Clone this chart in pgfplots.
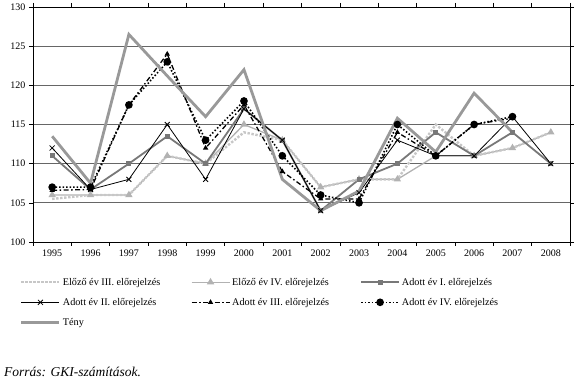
\documentclass[border=0pt]{standalone}
\usepackage{pgfplots}
\pgfplotsset{compat=1.18}
\usepackage{fontspec}
\setmainfont{Liberation Serif}
\definecolor{teny}{gray}{0.6}
\definecolor{adottI}{gray}{0.47}
\definecolor{elozoIII}{gray}{0.78}
\definecolor{elozoIV}{gray}{0.70}
\definecolor{gridc}{gray}{0.4}
\begin{document}
\begin{tikzpicture}
\path[use as bounding box] (0pt,0pt) rectangle (580pt,385pt);
\begin{axis}[
  at={(33pt,143pt)}, anchor=south west, scale only axis,
  width=537pt, height=235pt,
  xmin=-0.5, xmax=13.5, ymin=100, ymax=130,
  ytick={100,105,...,130},
  xtick={-0.5,0.5,...,13.5},
  xticklabels={1995,1996,1997,1998,1999,2000,2001,2002,2003,2004,2005,2006,2007,2008},
  x tick label as interval=true,
  tick align=outside, major tick length=4pt,
  tick style={black, line width=0.6pt},
  axis line style={black, line width=0.8pt},
  ymajorgrids, grid style={gridc, line width=0.9pt},
  /pgf/number format/assume math mode=true,
  tick label style={font=\fontsize{10}{12}\selectfont},
  legend cell align=left,
  legend style={at={(axis description cs:-0.03,-0.135)}, anchor=north west, draw=none,
    legend columns=3, font=\fontsize{10.2}{12}\selectfont, row sep=7.5pt,
    /tikz/every even column/.append style={column sep=2pt}},
  legend image code/.code={\draw[mark repeat=2,mark phase=2,#1] plot coordinates {(0pt,0pt) (19pt,0pt) (38pt,0pt)};},
]
\addplot[elozoIV, line width=1.3pt, mark=triangle*, mark size=3pt, mark options={solid}, forget plot] coordinates {
(0,106)(1,106)(2,106)(3,111)(4,110)(5,115)(6,113)(7,107)(8,108)(9,108)(10,111)(11,111)(12,112)(13,114)};
\addplot[elozoIII, line width=2.4pt, dash pattern=on 2.4pt off 1.6pt] coordinates {
(0,105.5)(1,106)(2,106)(3,111)(4,110)(5,114)(6,113)(7,107)(8,108)(9,108)(10,115)(11,111)(12,112)(13,114)};
\addlegendentry{\makebox[124pt][l]{Előző év III. előrejelzés}}
\addlegendimage{elozoIV, line width=1.3pt, mark=triangle*, mark size=3pt, mark options={solid}}
\addlegendentry{\makebox[124pt][l]{Előző év IV. előrejelzés}}
\addplot[adottI, line width=1.8pt, mark=square*, mark size=1.6pt, mark options={solid}] coordinates {
(0,111)(1,106.7)(2,110)(3,113.5)(4,110)(5,117)(6,113)(7,104)(8,108)(9,110)(10,114)(11,111)(12,114)(13,110)};
\addlegendentry{\makebox[124pt][l]{Adott év I. előrejelzés}}
\addplot[black, line width=0.8pt, mark=x, mark size=3.5pt, mark options={solid}] coordinates {
(0,112)(1,106.7)(2,108)(3,115)(4,108)(5,117)(6,113)(7,104)(8,106.3)(9,113)(10,111)(11,111)(12,116)(13,110)};
\addlegendentry{\makebox[124pt][l]{Adott év II. előrejelzés}}
\addplot[black, line width=1.3pt, dash pattern=on 5pt off 2.5pt on 1.5pt off 2.5pt, mark=triangle*, mark size=1.8pt, mark options={solid}] coordinates {
(0,106.6)(1,106.7)(2,117.5)(3,124)(4,112)(5,117.5)(6,109)(7,105.5)(8,105.5)(9,114)(10,111)(11,115)(12,115.8)};
\addlegendentry{\makebox[124pt][l]{Adott év III. előrejelzés}}
\addplot[black, line width=1.6pt, dash pattern=on 1.5pt off 2pt, mark=*, mark size=3pt, mark options={solid}] coordinates {
(0,107)(1,107)(2,117.5)(3,123)(4,113)(5,118)(6,111)(7,106)(8,105)(9,115)(10,111)(11,115)(12,116)};
\addlegendentry{\makebox[124pt][l]{Adott év IV. előrejelzés}}
\addplot[teny, line width=2.8pt] coordinates {
(0,113.5)(1,107.5)(2,126.5)(3,121.2)(4,116)(5,122)(6,108)(7,104)(8,106.5)(9,115.8)(10,111.5)(11,119)(12,114)};
\addlegendentry{\makebox[124pt][l]{Tény}}
\end{axis}
\node[anchor=base west, font=\itshape\fontsize{13.5}{15}\selectfont, inner sep=0pt] at (4pt,9pt) {Forrás: GKI-számítások.};
\end{tikzpicture}
\end{document}
